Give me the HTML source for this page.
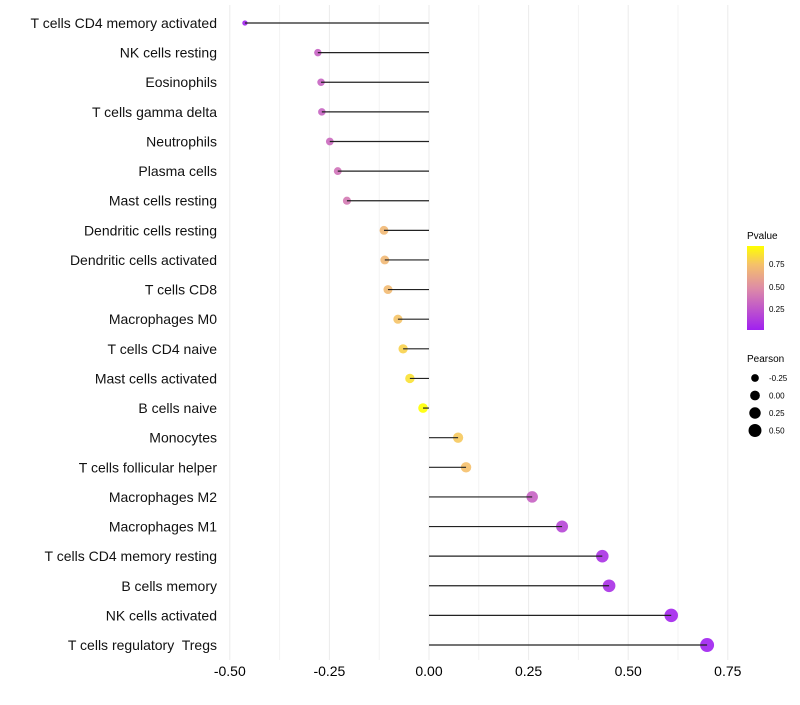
<!DOCTYPE html>
<html><head><meta charset="utf-8"><style>
body{margin:0;background:#fff;font-family:"Liberation Sans",sans-serif}
svg text{font-family:"Liberation Sans",sans-serif;white-space:pre}
</style></head><body>
<svg id="chart" width="800" height="700">
<defs><linearGradient id="pg" x1="0" y1="1" x2="0" y2="0">
<stop offset="0" stop-color="#a020f0"/><stop offset="0.5" stop-color="#de8ca6"/><stop offset="0.78" stop-color="#f5c16a"/><stop offset="1" stop-color="#ffff00"/></linearGradient></defs>
<g id="grid"></g><g id="marks"></g><g id="labels"></g>
<g>
<text x="747" y="239" font-size="10">Pvalue</text>
<rect x="747" y="246" width="17" height="84" fill="url(#pg)"/>
<text x="769" y="267" font-size="8">0.75</text>
<text x="769" y="290" font-size="8">0.50</text>
<text x="769" y="312" font-size="8">0.25</text>
</g>
<g id="sizeleg">
<text x="747" y="362" font-size="10">Pearson</text>
</g>
</svg>
<script>
const categories=["T cells CD4 memory activated","NK cells resting","Eosinophils","T cells gamma delta","Neutrophils","Plasma cells","Mast cells resting","Dendritic cells resting","Dendritic cells activated","T cells CD8","Macrophages M0","T cells CD4 naive","Mast cells activated","B cells naive","Monocytes","T cells follicular helper","Macrophages M2","Macrophages M1","T cells CD4 memory resting","B cells memory","NK cells activated","T cells regulatory  Tregs"];
const pearson=[-0.462,-0.279,-0.271,-0.269,-0.249,-0.229,-0.206,-0.113,-0.111,-0.103,-0.078,-0.065,-0.048,-0.015,0.073,0.093,0.259,0.334,0.435,0.452,0.608,0.698];
const pvalues=[0.03,0.3,0.31,0.31,0.33,0.37,0.4,0.7,0.7,0.71,0.75,0.8,0.85,0.95,0.77,0.74,0.3,0.18,0.09,0.08,0.04,0.02];
const xTicks=[-0.5,-0.25,0,0.25,0.5,0.75];
const xTickLabels=["-0.50","-0.25","0.00","0.25","0.50","0.75"];
const sizeLegend=[-0.25,0,0.25,0.5];
const sizeLegendLabels=["-0.25","0.00","0.25","0.50"];
const NS="http://www.w3.org/2000/svg";
const x=v=>429+v*398.4;
const y=i=>23+i*29.62;
const rad=v=>Math.sqrt(Math.max(2.5,13.7+36*(v+0.28)));
function mix(a,b,t){return a.map((c,i)=>Math.round(c+(b[i]-c)*t));}
const stops=[[0,[160,32,240]],[0.5,[222,140,166]],[0.78,[245,193,106]],[1,[255,255,0]]];
function col(p){let t=(p-0.017)/(0.95-0.017);t=Math.max(0,Math.min(1,t));
for(let k=1;k<stops.length;k++){if(t<=stops[k][0]){const s=stops[k-1];const u=(t-s[0])/(stops[k][0]-s[0]);return "rgb("+mix(s[1],stops[k][1],u).join(",")+")";}}return "rgb(255,255,0)";}
function el(tag,attrs,parent){const e=document.createElementNS(NS,tag);for(const k in attrs)e.setAttribute(k,attrs[k]);parent.appendChild(e);return e;}
const grid=document.getElementById('grid'),marks=document.getElementById('marks'),labels=document.getElementById('labels');
for(let k=0;k<xTicks.length;k++){
 const g=el('line',{x1:x(xTicks[k]),x2:x(xTicks[k]),y1:5,y2:660,stroke:'#ebebeb','stroke-width':1},grid);
 
 
 if(k<xTicks.length-1){const m=(xTicks[k]+xTicks[k+1])/2;
 const g2=el('line',{x1:x(m),x2:x(m),y1:5,y2:660,stroke:'#f3f3f3','stroke-width':1},grid);
 
 }
 const t=el('text',{x:x(xTicks[k]),y:676,'font-size':14,'text-anchor':'middle',fill:'#000'},labels);
 t.textContent=xTickLabels[k];
 
 
}
for(let i=0;i<categories.length;i++){
 const c=el('circle',{cx:x(pearson[i]),cy:y(i),r:rad(pearson[i]),fill:col(pvalues[i]),'fill-opacity':0.9},marks);
 
 
 const l=el('line',{x1:x(0),x2:x(pearson[i]),y1:y(i),y2:y(i),stroke:'#222','stroke-width':1.2},marks);
 
 
 const t=el('text',{x:217,y:y(i)+5,'font-size':14,'text-anchor':'end',fill:'#111'},labels);
 t.textContent=categories[i];
 
 
}
const sl=document.getElementById('sizeleg');
for(let k=0;k<sizeLegend.length;k++){
 const yy=378+k*17.5;
 const c=el('circle',{cx:755,cy:yy,r:rad(sizeLegend[k]),fill:'#000'},sl);
 
 
 const t=el('text',{x:769,y:yy+3,'font-size':8},sl);
 t.textContent=sizeLegendLabels[k];
 
 
}
</script>
</body></html>
